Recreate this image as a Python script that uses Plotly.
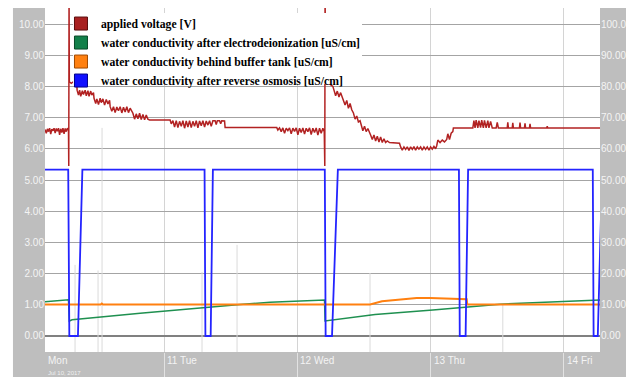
import plotly.graph_objects as go
import pandas as pd

BASE = pd.Timestamp("2017-07-10 00:00")

# ---------------- data (hours since Mon Jul 10 00:00) ----------------
volt_h = [2.57, 2.8, 3.0, 3.2, 3.4, 3.6, 3.8, 4.0, 4.2, 4.4, 4.6, 4.8, 5.0, 5.2, 5.4, 5.6, 5.8, 6.0, 6.2, 6.4, 6.6, 6.8,
          6.85, 6.9, 6.95,
          7.3, 7.7, 8.0, 8.3,
          8.35, 8.6, 8.8, 9.0, 9.3, 9.5, 9.8, 10.0, 10.3, 10.5, 10.8, 11.0, 11.3,
          11.4, 11.7, 11.9, 12.2, 12.5, 12.7, 13.0, 13.3, 13.6, 13.9, 14.2,
          14.3, 14.6, 14.9, 15.2, 15.5, 15.8, 16.1, 16.4, 16.7, 17.0, 17.3, 17.6, 17.9, 18.2,
          18.4, 18.7, 19.0, 19.3, 19.6, 19.9, 20.2, 20.5, 20.8, 21.1, 21.4,
          25.1,
          25.3, 25.6, 25.9, 26.2, 26.5, 26.8, 27.1, 27.4, 27.7, 28.0, 28.3, 28.6, 28.9, 29.2, 29.5, 29.8, 30.1, 30.4,
          30.7, 31.0, 31.3, 31.6, 31.9, 32.2, 32.5, 32.8,
          33.2, 33.4, 33.6, 34.0, 34.2, 34.4, 34.9,
          35.0, 44.3,
          44.5, 44.8, 45.1, 45.4, 45.7, 46.0, 46.3, 46.6, 46.9, 47.2, 47.5, 47.8, 48.1, 48.4, 48.7, 49.0, 49.3, 49.6,
          49.9, 50.2, 50.5, 50.8, 51.1, 51.4, 51.7, 52.0, 52.3, 52.6, 52.85,
          52.95, 53.0, 53.1,
          53.5, 54.0, 54.4,
          54.6, 54.9, 55.2, 55.5, 55.8, 56.1,
          56.3, 56.6, 56.9, 57.2, 57.5, 57.8,
          58.1, 58.4, 58.7, 59.0, 59.3,
          59.5, 59.8, 60.1, 60.4, 60.7, 61.0,
          61.2, 61.5, 61.8, 62.1, 62.4, 62.7, 63.0, 63.3, 63.6, 63.9, 64.2, 64.6,
          66.4,
          66.6, 66.9, 67.2, 67.5, 67.8, 68.1, 68.4, 68.7, 69.0, 69.3, 69.6, 69.9, 70.2, 70.5, 70.8, 71.1, 71.4, 71.7,
          72.0, 72.3, 72.6, 72.9, 73.1,
          73.3, 73.7, 74.1, 74.5, 74.9,
          75.1, 75.4, 75.7, 76.0,
          76.1, 79.6,
          79.8, 80.0, 80.2, 80.5, 80.7, 81.0, 81.2, 81.5, 81.7, 82.0, 82.3, 82.5, 82.8, 83.1, 83.8, 84.0, 84.2,
          85.8, 85.9, 86.0, 86.7, 86.8, 86.9, 88.0, 88.1, 88.2, 88.9, 89.0, 89.1, 89.8, 89.9, 90.0, 92.9, 93.0, 93.1,
          102.5]
volt_v = [6.62, 6.50, 6.64, 6.55, 6.66, 6.47, 6.63, 6.58, 6.66, 6.50, 6.65, 6.56, 6.66, 6.45, 6.64, 6.52, 6.66, 6.48, 6.65, 6.55, 6.66, 6.60,
          5.45, 11.0, 8.15,
          8.10, 8.15, 8.08, 8.05,
          7.88, 7.72, 7.88, 7.68, 7.86, 7.74, 7.88, 7.70, 7.86, 7.68, 7.85, 7.72, 7.80,
          7.62, 7.45, 7.60, 7.42, 7.62, 7.48, 7.60, 7.40, 7.58, 7.44, 7.55,
          7.35, 7.20, 7.35, 7.16, 7.34, 7.22, 7.35, 7.15, 7.33, 7.18, 7.35, 7.16, 7.30, 7.20,
          7.14, 6.95, 7.12, 6.96, 7.14, 6.94, 7.10, 6.93, 7.08, 6.95, 6.92,
          6.92,
          6.80, 6.90, 6.70, 6.90, 6.68, 6.88, 6.72, 6.90, 6.66, 6.89, 6.70, 6.90, 6.68, 6.88, 6.72, 6.90, 6.67, 6.89,
          6.74, 6.90, 6.70, 6.89, 6.76, 6.90, 6.72, 6.90,
          6.90, 6.78, 6.90, 6.90, 6.80, 6.90, 6.89,
          6.68, 6.68,
          6.60, 6.67, 6.55, 6.67, 6.50, 6.66, 6.58, 6.67, 6.48, 6.66, 6.56, 6.67, 6.45, 6.66, 6.52, 6.67, 6.47, 6.66,
          6.55, 6.67, 6.46, 6.66, 6.52, 6.67, 6.44, 6.66, 6.50, 6.66, 6.55,
          5.45, 11.0, 8.15,
          8.12, 8.05, 8.00,
          7.88, 7.70, 7.85, 7.66, 7.80, 7.65,
          7.60, 7.40, 7.55, 7.30, 7.45, 7.25,
          7.15, 6.95, 7.05, 6.86, 6.90,
          6.76, 6.58, 6.72, 6.55, 6.65, 6.54,
          6.44, 6.30, 6.44, 6.25, 6.40, 6.22, 6.38, 6.20, 6.32, 6.20, 6.25, 6.20,
          6.18,
          6.06, 5.96, 6.06, 5.98, 6.06, 5.95, 6.06, 5.98, 6.07, 5.96, 6.06, 5.99, 6.06, 5.96, 6.06, 5.98, 6.06, 5.96,
          6.06, 5.99, 6.08, 6.00, 6.10,
          6.28, 6.20, 6.28, 6.22, 6.30,
          6.48, 6.30, 6.50, 6.55,
          6.67, 6.67,
          6.90, 6.67, 6.92, 6.67, 6.90, 6.68, 6.92, 6.67, 6.91, 6.67, 6.90, 6.67, 6.88, 6.67, 6.67, 6.85, 6.67,
          6.67, 6.85, 6.67, 6.67, 6.83, 6.67, 6.67, 6.84, 6.67, 6.67, 6.82, 6.67, 6.67, 6.80, 6.67, 6.67, 6.72, 6.67,
          6.67]

ro_h = [2.57, 6.75, 6.95, 8.5, 9.3, 31.3, 31.45, 32.4, 32.8, 52.95, 53.1, 54.25, 55.3,
        77.1, 77.25, 78.3, 78.75, 101.2, 101.35, 102.1, 102.9]
ro_v = [53.3, 53.3, 0.0, 0.0, 53.3, 53.3, 0.0, 0.0, 53.3, 53.3, 0.0, 0.0, 53.3,
        53.3, 0.0, 0.0, 53.3, 53.3, 0.0, 0.0, 53.3]

edi_h = [2.57, 6.8, 6.95, 7.44, 19.7, 26.0, 31.7, 37.7, 43.1, 52.9, 53.0, 53.9, 62.0, 72.4, 84.5, 102.5]
edi_v = [11.0, 11.6, 4.8, 5.2, 7.3, 8.3, 9.3, 10.1, 10.8, 11.5, 4.8, 5.0, 6.9, 8.3, 10.2, 11.5]

buf_h = [2.57, 12.6, 12.8, 13.0, 61.1, 62.35, 63.25, 69.5, 71.9, 78.5, 78.6, 102.5]
buf_v = [10.1, 10.1, 10.4, 10.1, 10.1, 10.6, 11.1, 12.2, 12.2, 11.8, 10.1, 10.1]

aux_h = [7.98, 12.12, 12.84, 30.84, 37.15, 61.09, 85.0]
aux_top = [22.8, 21.0, 66.7, 20.5, 29.2, 20.2, 10.0]

day_labels = ["Mon", "11 Tue", "12 Wed", "13 Thu", "14 Fri"]
day_label_h = [2.57, 24.0, 48.0, 72.0, 96.0]
date_note = "Jul 10, 2017"

legend_names = ["applied voltage [V]",
                "water conductivity after electrodeionization [uS/cm]",
                "water conductivity behind buffer tank [uS/cm]",
                "water conductivity after reverse osmosis [uS/cm]"]
legend_colors = ["#a82020", "#12804a", "#ff8010", "#1010ff"]
legend_edges = ["#5a0c0c", "#0a4a28", "#a04a00", "#00008a"]


def to_time(hours):
    return [None if h is None else BASE + pd.Timedelta(hours=h) for h in hours]


aux_x, aux_y = [], []
for h, top in zip(aux_h, aux_top):
    aux_x += [h, h, None]
    aux_y += [-10, top, None]

fig = go.Figure()
fig.add_trace(go.Scatter(x=to_time(aux_x), y=aux_y, mode="lines", yaxis="y",
                         line=dict(color="#dadada", width=1), showlegend=False, hoverinfo="skip"))
fig.add_trace(go.Scatter(x=to_time(edi_h), y=edi_v, mode="lines", yaxis="y",
                         line=dict(color="#1f9050", width=1.5), showlegend=False))
fig.add_trace(go.Scatter(x=to_time(buf_h), y=buf_v, mode="lines", yaxis="y",
                         line=dict(color="#ff8010", width=2), showlegend=False))
fig.add_trace(go.Scatter(x=to_time(ro_h), y=ro_v, mode="lines", yaxis="y",
                         line=dict(color="#2424ff", width=1.8), showlegend=False))
fig.add_trace(go.Scatter(x=to_time(volt_h), y=volt_v, mode="lines", yaxis="y2",
                         line=dict(color="#b22222", width=1.5), showlegend=False))

# legend entries (square swatches)
for name, col, edge in zip(legend_names, legend_colors, legend_edges):
    fig.add_trace(go.Scatter(x=[None], y=[None], mode="markers", yaxis="y2", name="<b>" + name + "</b>",
                             marker=dict(symbol="square", size=13, color=col, line=dict(color=edge, width=1))))

GRAY = "#bebebe"
TICKFONT = dict(family="Liberation Sans, Arial", size=10, color="#f4f4f4")

x_start = BASE + pd.Timedelta(hours=2.57)
x_end = BASE + pd.Timedelta(hours=102.5)

fig.update_layout(
    width=626, height=369,
    margin=dict(l=37, r=34, t=0, b=25, autoexpand=False),
    paper_bgcolor=GRAY, plot_bgcolor="white",
    xaxis=dict(type="date", range=[x_start, x_end], tick0="2017-07-10", dtick=86400000,
               showgrid=True, gridcolor="#d4d4d4", gridwidth=1, showticklabels=False,
               ticks="outside", ticklen=26, tickcolor="#e2e2e2", tickwidth=1,
               zeroline=False, showline=False, automargin=False),
    yaxis=dict(side="right", range=[-5.13, 105.13], tick0=0, dtick=10, tickformat=".2f",
               showgrid=True, gridcolor="#a4a4a4", gridwidth=1,
               zeroline=True, zerolinecolor="#808080", zerolinewidth=2,
               tickfont=TICKFONT, ticks="", showline=False, automargin=False),
    yaxis2=dict(side="left", overlaying="y", range=[-0.513, 10.513], tick0=0, dtick=1, tickformat=".2f",
                showgrid=False, zeroline=False, tickfont=TICKFONT, ticks="", showline=False,
                automargin=False),
    showlegend=True,
    legend=dict(x=0.0288, xanchor="left", y=0.997, yanchor="top", bgcolor="rgba(0,0,0,0)",
                borderwidth=0, font=dict(family="Liberation Serif, Times New Roman", size=11.7, color="black"),
                itemsizing="trace", tracegroupgap=0),
    shapes=[
        # white outer margin strip at the left
        dict(type="rect", xref="paper", yref="paper", x0=-0.07, x1=-0.0577, y0=-0.08, y1=1.01,
             fillcolor="white", line=dict(width=0), layer="below"),
        # white legend box covering the traces
        dict(type="rect", xref="paper", yref="paper", x0=0.0505, x1=0.5712, y0=0.779, y1=0.9855,
             fillcolor="white", line=dict(width=0), layer="above"),
    ],
)

annotations = []
for lab, h in zip(day_labels, day_label_h):
    annotations.append(dict(x=BASE + pd.Timedelta(hours=h), y=-0.026, xref="x", yref="paper",
                            text=lab, showarrow=False, xanchor="left", yanchor="middle", xshift=1,
                            font=dict(family="Liberation Sans, Arial", size=10, color="#f4f4f4")))
annotations.append(dict(x=x_start, y=-0.061, xref="x", yref="paper", text=date_note, showarrow=False,
                        xanchor="left", yanchor="middle", xshift=1,
                        font=dict(family="Liberation Sans, Arial", size=6, color="#f0f0f0")))
fig.update_layout(annotations=annotations)

fig.write_html("out.html")
